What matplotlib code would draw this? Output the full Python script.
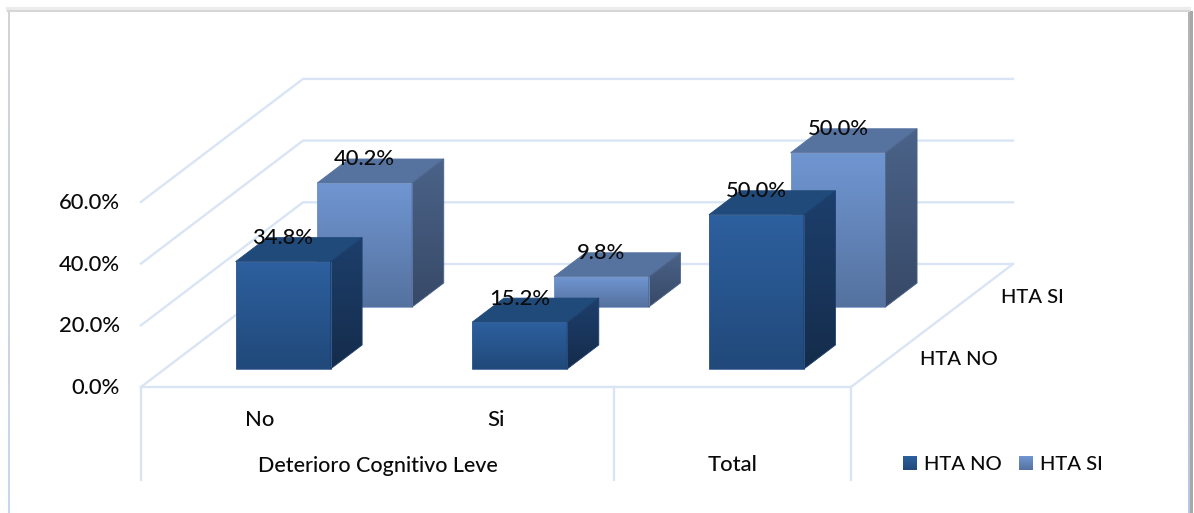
import numpy as np
from matplotlib import pyplot as plt
from matplotlib.colors import to_rgb
from matplotlib.patches import Polygon

plt.rcParams['font.family'] = ['Lato', 'DejaVu Sans']
plt.rcParams['font.size'] = 15.8
plt.rcParams['font.weight'] = 'medium'
plt.rcParams['text.color'] = '#0a0a0a'

# values in percent
categories = ['No', 'Si', 'Total']
group_label = 'Deterioro Cognitivo Leve'
series_names = ['HTA NO', 'HTA SI']
hta_no = [34.8, 15.2, 50.0]
hta_si = [40.2, 9.8, 50.0]
y_ticks = [0, 20, 40, 60]

W, H = 1194, 513

# floor of the 3d box in pixels
x0, y0 = 141, 387
floor_w = 710
depth_x, depth_y = 162, 123
px_per_pct = 3.085
bar_frac = 0.401
bar_depth = 0.195

# colours: (face top, face bottom, roof, side top, side bottom)
colors = [('#2d609f', '#21497a', '#204a7a', '#1d3f6c', '#152c4b'),
          ('#7096d2', '#55729f', '#56729f', '#4b6389', '#374967')]
grid_col = '#d9e5f5'
edge_cols = ['#3a6298', '#7b99c8']


def project(x, depth, value):
    # x is in category units, depth goes 0..1 front to back
    px = x0 + x / len(categories) * floor_w + depth * depth_x
    py = y0 - depth * depth_y - value * px_per_pct
    return px, py


def vgrad(c_top, c_bottom):
    top = np.array(to_rgb(c_top))
    bot = np.array(to_rgb(c_bottom))
    t = np.linspace(0, 1, 128)[:, None, None]
    return top[None, None, :] * (1 - t) + bot[None, None, :] * t


def grad_poly(ax, pts, c_top, c_bottom, edge, z):
    # polygon filled with a vertical gradient
    pts = np.array(pts)
    ext = (pts[:, 0].min(), pts[:, 0].max(), pts[:, 1].max(), pts[:, 1].min())
    im = ax.imshow(vgrad(c_top, c_bottom), extent=ext, aspect='auto', zorder=z, interpolation='bilinear')
    patch = Polygon(pts, closed=True, transform=ax.transData, fc='none', ec=edge, lw=0.6, zorder=z + 0.1)
    ax.add_patch(patch)
    im.set_clip_path(patch)


def draw_bar(ax, cat, series, value, z):
    c = colors[series]
    edge = edge_cols[series]
    mid = cat + 0.5
    left, right = mid - bar_frac / 2, mid + bar_frac / 2
    d1 = 0.244 + series * 0.504 - bar_depth / 2
    d2 = d1 + bar_depth
    grad_poly(ax, [project(left, d1, 0), project(right, d1, 0), project(right, d1, value), project(left, d1, value)],
              c[0], c[1], edge, z)
    grad_poly(ax, [project(right, d1, 0), project(right, d2, 0), project(right, d2, value), project(right, d1, value)],
              c[3], c[4], c[3], z)
    roof = [project(left, d1, value), project(right, d1, value), project(right, d2, value), project(left, d2, value)]
    ax.add_patch(Polygon(roof, closed=True, fc=c[2], ec=c[2], lw=0.6, zorder=z + 0.05))
    # data label sits on the back edge of the roof
    lx = project(mid, d1, value)[0]
    ly = project(mid, d2, value)[1]
    ax.text(lx, ly + 0.5, '%.1f%%' % value, ha='center', va='center', zorder=10)


fig = plt.figure(figsize=(W / 100, H / 100), dpi=100)
ax = fig.add_axes([0, 0, 1, 1])
ax.axis('off')

# outer frame, grey at the top fading to blue towards the bottom
ax.imshow(vgrad('#d4d4d6', '#c6d8f0'), extent=(7.5, 9.5, H, 11), aspect='auto', zorder=1)
ax.imshow(vgrad('#b4b4b4', '#b4cbe8'), extent=(1187.5, 1190, H, 11), aspect='auto', zorder=1)
ax.imshow(vgrad('#a8a8a8', '#a8a8a8'), extent=(1190, 1193, H, 11), aspect='auto', zorder=1)
ax.plot([8, 1189], [8.5, 8.5], color='#ececec', lw=3, zorder=0.9)
ax.plot([8, 1189], [11, 11], color='#d6d6d6', lw=1.5, zorder=1)

# walls and floor
for v in y_ticks:
    xa, ya = project(0, 0, v)
    xb, yb = project(0, 1, v)
    xc, yc = project(len(categories), 1, v)
    ax.plot([xa, xb, xc], [ya, yb, yc], color=grid_col, lw=1.7, zorder=2)
    ax.text(119.5, ya + 1, '%.1f%%' % v, ha='right', va='center')

xa, ya = project(0, 0, 0)
xb, yb = project(len(categories), 0, 0)
xc, yc = project(len(categories), 1, 0)
ax.plot([xa, xb, xc], [ya, yb, yc], color=grid_col, lw=1.7, zorder=2)

# category table under the floor
for c in [0, 2, 3]:
    xt = project(c, 0, 0)[0]
    ax.plot([xt, xt], [y0, 480], color=grid_col, lw=1.7, zorder=2)

for i, name in enumerate(categories[:2]):
    ax.text(project(i + 0.5, 0, 0)[0], 420, name, ha='center', va='center')
ax.text(project(1, 0, 0)[0], 466, group_label, ha='center', va='center', fontsize=15.5)
ax.text(project(2.5, 0, 0)[0], 465, categories[2], ha='center', va='center')

# depth axis names
for s, name in enumerate(series_names):
    sx, sy = project(len(categories), 0.244 + s * 0.504, 0)
    ax.text(sx + 29, sy + 3, name, ha='left', va='center', fontsize=14.6)

# back row first so the front row covers it
for s, vals in [(1, hta_si), (0, hta_no)]:
    for i, v in enumerate(vals):
        draw_bar(ax, i, s, v, 3 + (1 - s))

# legend
for s, (lx, name) in enumerate(zip([903, 1019], series_names)):
    grad_poly(ax, [(lx, 456), (lx + 14, 456), (lx + 14, 470), (lx, 470)], colors[s][0], colors[s][1], 'none', 5)
    ax.text(lx + 21, 464, name, ha='left', va='center', fontsize=14.6)

# imshow resets the limits, so fix them last
ax.set_xlim(0, W)
ax.set_ylim(H, 0)
fig.savefig('out.png', dpi=100, facecolor='white')
